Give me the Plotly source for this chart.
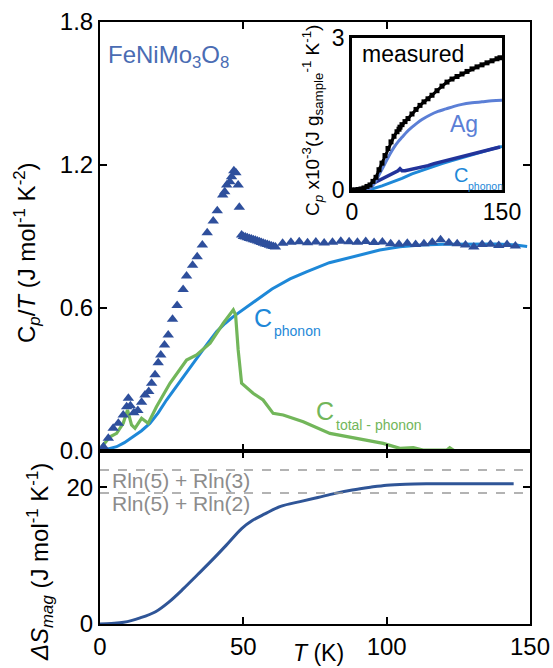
import math
import plotly.graph_objects as go

W, H = 553, 668

# ---- main panel: measured C_p/T of FeNiMo3O8 (J mol^-1 K^-2) ----
T_meas = [1.2, 2.9, 4.6, 6.4, 8.1, 9.3, 9.9, 10.6, 11.8, 13.2, 14.5, 15.7, 17.0, 18.0,
          19.2, 20.3, 21.2, 22.5, 23.8, 25.3, 26.9, 29.0, 30.2, 32.3, 33.9, 35.7, 37.4,
          39.5, 40.9, 42.8, 43.5, 44.2, 45.3, 45.9, 46.7, 47.4, 48.2, 48.6,
          49.4, 50.0, 50.7, 51.4, 52.1, 52.8, 53.5, 54.2, 54.9, 55.6, 56.3, 57.0, 57.7,
          58.4, 59.1, 59.8, 60.5, 61.2,
          63.7, 66.6, 69.5, 72.4, 75.3, 78.2, 81.1, 84.0, 86.9, 89.8, 92.7, 95.6, 98.5,
          101.4, 104.3, 107.2, 110.1, 113.0, 115.9, 118.8, 121.7, 124.6, 127.5, 130.4,
          133.3, 136.2, 139.1, 142.0, 144.9]
CpT_meas = [0.018, 0.053, 0.095, 0.116, 0.151, 0.186, 0.221, 0.190, 0.160, 0.170, 0.205,
            0.235, 0.250, 0.284, 0.320, 0.370, 0.403, 0.445, 0.487, 0.553, 0.611, 0.678,
            0.734, 0.779, 0.815, 0.864, 0.916, 0.965, 1.008, 1.074, 1.088, 1.116, 1.130,
            1.151, 1.176, 1.168, 1.116, 1.023,
            0.906, 0.900, 0.898, 0.895, 0.892, 0.889, 0.886, 0.884, 0.881, 0.878, 0.875,
            0.872, 0.869, 0.866, 0.863, 0.860, 0.858, 0.856,
            0.872, 0.876, 0.878, 0.874, 0.877, 0.873, 0.876, 0.880, 0.878, 0.876, 0.879,
            0.875, 0.877, 0.870, 0.868, 0.872, 0.866, 0.870, 0.876, 0.886, 0.874, 0.870,
            0.864, 0.856, 0.866, 0.868, 0.862, 0.866, 0.860]

# phonon contribution
T_ph = [0, 3, 5.8, 8.5, 11.6, 14.5, 17.4, 20.3, 23.2, 26.1, 29.0, 31.9, 34.9, 37.8, 40.7,
        43.6, 46.5, 50, 54.6, 60, 66.3, 72, 80, 87, 93, 97.6, 104.6, 112, 120, 130, 139,
        145, 149]
CpT_ph = [0.0, 0.008, 0.018, 0.035, 0.060, 0.085, 0.116, 0.160, 0.214, 0.262, 0.312,
          0.361, 0.410, 0.456, 0.501, 0.535, 0.564, 0.595, 0.634, 0.680, 0.722, 0.752,
          0.790, 0.810, 0.830, 0.843, 0.857, 0.864, 0.868, 0.869, 0.869, 0.864, 0.858]

# total minus phonon
T_mag = [0.6, 3.5, 5.8, 8.1, 9.6, 11.0, 12.2, 14.5, 16.8, 19.7, 24.4, 30.2, 33.7, 38.4,
         43.0, 46.5, 47.3, 48.2, 49.4, 53.4, 56.9, 60.4, 63.9, 70.9, 80.2, 89.5, 98.8,
         104.6, 109.3, 112.7, 121.0, 122.0, 123.5, 130, 137, 143.6]
CpT_mag = [0.018, 0.060, 0.074, 0.116, 0.172, 0.109, 0.095, 0.137, 0.116, 0.186, 0.284,
           0.382, 0.403, 0.452, 0.536, 0.592, 0.571, 0.424, 0.284, 0.242, 0.214, 0.158,
           0.151, 0.123, 0.074, 0.053, 0.032, 0.011, 0.014, 0.004, 0.004, 0.014, 0.002,
           0.002, 0.0, 0.002]

# ---- lower panel: magnetic entropy (J mol^-1 K^-1) ----
T_S = [0, 4, 8.3, 14, 19.4, 24, 29.2, 34, 39, 44, 49.5, 53, 57.5, 63, 69.8, 76, 82, 88,
       94.3, 100, 106.6, 115, 125, 135, 144.3]
dS = [0, 0.08, 0.25, 0.9, 1.8, 3.2, 5.2, 7.2, 9.3, 11.5, 14.0, 15.1, 16.1, 17.2, 17.9,
      18.5, 19.1, 19.6, 20.0, 20.3, 20.45, 20.5, 20.5, 20.5, 20.5]

R_GAS = 8.314
S_53 = R_GAS * (math.log(5) + math.log(3))
S_52 = R_GAS * (math.log(5) + math.log(2))

# ---- inset: raw C_p (x10^-3 J g_sample^-1 K^-1) ----
T_in_meas = [0, 3, 6, 9, 12, 15, 18, 21, 24, 27, 30, 33, 36, 39, 42, 45, 47, 48, 50, 53,
             56, 60, 64, 68, 72, 76, 80, 85, 90, 95, 100, 105, 110, 115, 120, 125, 130,
             135, 140, 145, 148]
Cp_in_meas = [0.0, 0.0, 0.01, 0.02, 0.04, 0.07, 0.10, 0.17, 0.25, 0.40, 0.53, 0.68, 0.82,
              0.95, 1.06, 1.15, 1.20, 1.24, 1.29, 1.35, 1.41, 1.50, 1.59, 1.67, 1.74, 1.80,
              1.87, 1.96, 2.05, 2.13, 2.19, 2.24, 2.29, 2.34, 2.39, 2.43, 2.47, 2.51, 2.55,
              2.59, 2.61]
T_in_ag = [10, 14, 18, 22, 26, 30, 34, 38, 42, 46, 50, 55, 60, 65, 70, 78, 86, 94, 102,
           110, 120, 130, 140, 150]
Cp_in_ag = [0.0, 0.01, 0.03, 0.12, 0.26, 0.41, 0.56, 0.71, 0.84, 0.95, 1.04, 1.15, 1.24,
            1.32, 1.39, 1.48, 1.55, 1.60, 1.65, 1.69, 1.72, 1.74, 1.76, 1.77]
T_in_smp = [0, 4, 8, 12, 16, 20, 24, 28, 32, 36, 40, 44, 46, 48, 50, 53, 58, 64, 70, 76,
            82, 88, 94, 100, 106, 112, 118, 124, 130, 136, 142, 148]
Cp_in_smp = [0.0, 0.01, 0.02, 0.04, 0.08, 0.12, 0.16, 0.20, 0.24, 0.28, 0.31, 0.35, 0.38,
             0.42, 0.38, 0.38, 0.40, 0.42, 0.45, 0.48, 0.52, 0.55, 0.58, 0.61, 0.64, 0.67,
             0.70, 0.73, 0.76, 0.79, 0.82, 0.85]
T_in_ph = [12, 20, 30, 40, 50, 60, 70, 80, 90, 100, 110, 120, 130, 140, 150]
Cp_in_ph = [0.0, 0.02, 0.08, 0.15, 0.23, 0.32, 0.39, 0.46, 0.52, 0.58, 0.64, 0.69, 0.75,
            0.81, 0.86]

FONT = "Liberation Sans, Arial, sans-serif"
C_TRI = "#2e4f9c"
C_PH = "#1e88d8"
C_GREEN = "#72b65a"
C_S = "#2f5597"
C_AG = "#5b7fd6"
C_NAVY = "#22339a"


def px(x):
    return x / W


def py(y):
    return 1 - y / H


X0, X1 = 100, 530
TOP_Y0, TOP_Y1 = 22, 451
BOT_Y1 = 624
IN_X0, IN_X1, IN_Y0, IN_Y1 = 352, 502, 38, 190

fig = go.Figure()

fig.add_trace(go.Scatter(x=T_ph, y=CpT_ph, mode="lines", line=dict(color=C_PH, width=3),
                         xaxis="x", yaxis="y", showlegend=False))
fig.add_trace(go.Scatter(x=T_mag, y=CpT_mag, mode="lines", line=dict(color=C_GREEN, width=3.2),
                         xaxis="x", yaxis="y", showlegend=False))
fig.add_trace(go.Scatter(x=T_meas, y=CpT_meas, mode="markers",
                         marker=dict(symbol="triangle-up", size=10, color=C_TRI),
                         xaxis="x", yaxis="y", showlegend=False))

fig.add_trace(go.Scatter(x=T_S, y=dS, mode="lines", line=dict(color=C_S, width=3, shape="spline"),
                         xaxis="x2", yaxis="y2", showlegend=False))
for s in (S_53, S_52):
    fig.add_trace(go.Scatter(x=[0, 150], y=[s, s], mode="lines",
                             line=dict(color="#9a9a9a", width=1.5, dash="dash"),
                             xaxis="x2", yaxis="y2", showlegend=False))

fig.add_trace(go.Scatter(x=T_in_ph, y=Cp_in_ph, mode="lines", line=dict(color=C_PH, width=3),
                         xaxis="x3", yaxis="y3", showlegend=False))
fig.add_trace(go.Scatter(x=T_in_smp, y=Cp_in_smp, mode="lines", line=dict(color=C_NAVY, width=3.5),
                         xaxis="x3", yaxis="y3", showlegend=False))
fig.add_trace(go.Scatter(x=T_in_ag, y=Cp_in_ag, mode="lines", line=dict(color=C_AG, width=3, shape="spline"),
                         xaxis="x3", yaxis="y3", showlegend=False))
fig.add_trace(go.Scatter(x=T_in_meas, y=Cp_in_meas, mode="lines+markers",
                         line=dict(color="black", width=3),
                         marker=dict(symbol="square", size=5, color="black"),
                         xaxis="x3", yaxis="y3", showlegend=False))

axis_common = dict(showline=True, linecolor="black", linewidth=2, ticks="inside",
                   ticklen=7, tickwidth=2, tickcolor="black", showgrid=False,
                   zeroline=False, mirror="ticks", automargin=False,
                   tickfont=dict(family=FONT, size=24, color="black"))
inset_axis = dict(showline=True, linecolor="black", linewidth=2.5, mirror=True,
                  ticks="", showgrid=False, zeroline=False, automargin=False,
                  tickfont=dict(family=FONT, size=23, color="black"))

fig.update_layout(
    width=W, height=H, margin=dict(l=0, r=0, t=0, b=0, pad=0, autoexpand=False),
    paper_bgcolor="white", plot_bgcolor="white",
    xaxis=dict(axis_common, domain=[px(X0), px(X1)], range=[0, 150],
               tickvals=[0, 50, 100, 150], showticklabels=False, anchor="y"),
    yaxis=dict(axis_common, domain=[py(TOP_Y1), py(TOP_Y0)], range=[0, 1.8],
               tickvals=[0, 0.6, 1.2, 1.8], ticktext=["0.0", "0.6", "1.2", "1.8"],
               anchor="x"),
    xaxis2=dict(axis_common, domain=[px(X0), px(X1)], range=[0, 150],
                tickvals=[0, 50, 100, 150], anchor="y2"),
    yaxis2=dict(axis_common, domain=[py(BOT_Y1), py(TOP_Y1)], range=[0, 25.3],
                tickvals=[0, 20], anchor="x2"),
    xaxis3=dict(inset_axis, domain=[px(IN_X0), px(IN_X1)], range=[0, 150],
                tickvals=[0, 150], anchor="y3"),
    yaxis3=dict(inset_axis, domain=[py(IN_Y1), py(IN_Y0)], range=[0, 3],
                tickvals=[0, 3], anchor="x3"),
)


def note(text, x, y, size, color="black", angle=0, xanchor="center"):
    fig.add_annotation(text=text, x=px(x), y=py(y), xref="paper", yref="paper",
                       showarrow=False, textangle=angle, xanchor=xanchor, yanchor="middle",
                       font=dict(family=FONT, size=size, color=color))


note("FeNiMo<sub>3</sub>O<sub>8</sub>", 106, 56, 24, "#4a6cb3", xanchor="left")
note("C<sub><i>p</i></sub>/<i>T</i> (J mol<sup>-1</sup> K<sup>-2</sup>)", 27, 253, 24, angle=-90)
note("<i>ΔS<sub>mag</sub></i> (J mol<sup>-1</sup> K<sup>-1</sup>)", 40, 562, 24, angle=-90)
note("<i>T</i> (K)", 318, 653, 23)
note("C", 263, 318, 25, C_PH)
note("phonon", 297, 331, 14, C_PH)
note("C", 325, 411, 25, C_GREEN)
note("total - phonon", 379, 425, 14, C_GREEN)
note("Rln(5) + Rln(3)", 181, 480, 21, "#8c8c8c")
note("Rln(5) + Rln(2)", 181, 504, 21, "#8c8c8c")
note("measured", 413, 54, 23)
note("Ag", 464, 124, 23, C_AG)
note("C", 461, 175, 20, C_PH)
note("phonon", 485, 186, 10.5, C_PH)
note("C<sub><i>p</i></sub> x10<sup>-3</sup>(J g<sub>sample</sub><sup>-1</sup> K<sup>-1</sup>)",
     312, 121, 19, angle=-90)

fig.write_html("out.html")
